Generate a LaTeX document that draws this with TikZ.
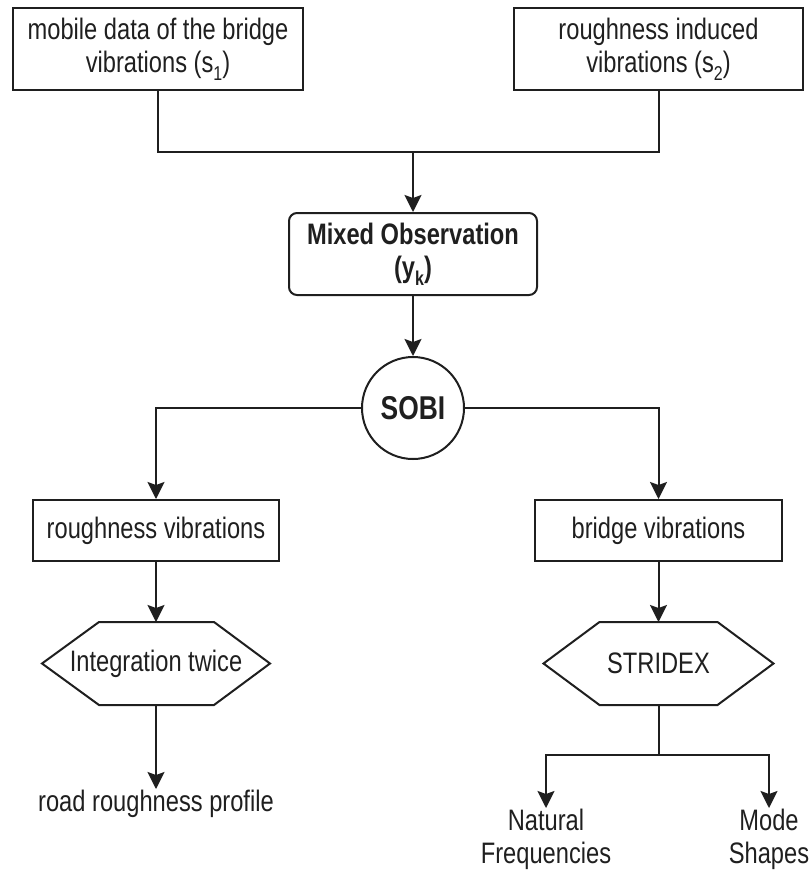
\documentclass[tikz,border=0pt]{standalone}
\usepackage{fontspec}
\setmainfont{Liberation Sans}[FakeStretch=0.8]
\usetikzlibrary{arrows.meta,calc}
\newcommand{\fsz}{\fontsize{29.6}{33}\selectfont}
\newcommand{\subsc}[1]{\raisebox{-0.28em}{\fontsize{20}{20}\selectfont #1}}
\begin{document}
\begin{tikzpicture}[x=1pt,y=-1pt,line width=2pt,color=black!88,
  box/.style={draw,rectangle,inner sep=0pt,align=center,font=\fsz},
  plain/.style={inner sep=0pt,align=center,font=\fsz},
  hexnode/.style={rectangle,inner sep=0pt,align=center,font=\fsz,minimum height=81pt},
  arr/.style={-{Stealth[length=17pt,width=17pt,inset=3pt]}}]
\useasboundingbox (0,0) rectangle (811,871);
% nodes
\node[box,minimum width=290pt,minimum height=82pt] (b1) at (158,49)
  {mobile data of the bridge\\vibrations (s\subsc{1})};
\node[box,minimum width=289pt,minimum height=82pt] (b2) at (658.5,49)
  {roughness induced\\vibrations (s\subsc{2})};
\coordinate (j1) at (413,152);
\node[box,rounded corners=8pt,minimum width=248pt,minimum height=82pt,font=\fsz\bfseries] (mix) at (413,254)
  {Mixed Observation\\(y\subsc{\bfseries k})};
\node[draw,circle,minimum size=102pt,inner sep=0pt,font=\fontsize{33}{36}\selectfont\bfseries] (sobi) at (413,408) {SOBI};
\node[box,minimum width=246pt,minimum height=61pt] (rv) at (156,530.5) {roughness vibrations};
\node[box,minimum width=247pt,minimum height=61pt] (bv) at (658.5,530.5) {bridge vibrations};
\node[hexnode,minimum width=226pt] (h1) at (156,663.5) {Integration twice};
\node[hexnode,minimum width=228pt] (h2) at (658.5,663.5) {STRIDEX};
\draw (h1.west) -- ($(h1.north west)+(57,0)$) -- ($(h1.north east)+(-56,0)$) -- (h1.east)
  -- ($(h1.south east)+(-56,0)$) -- ($(h1.south west)+(57,0)$) -- cycle;
\draw (h2.west) -- ($(h2.north west)+(56,0)$) -- ($(h2.north east)+(-56,0)$) -- (h2.east)
  -- ($(h2.south east)+(-56,0)$) -- ($(h2.south west)+(56,0)$) -- cycle;
\node[plain,anchor=north] (road) at (156,789) {road roughness profile};
\coordinate (j2) at (658.5,755);
\node[plain,anchor=north] (nat) at (546,808) {Natural\\Frequencies};
\node[plain,anchor=north] (mode) at (769,808) {Mode\\Shapes};
% connectors
\draw (b1.south) |- (j1) -| (b2.south);
\draw[arr] (j1) -- (mix.north);
\draw[arr] (mix.south) -- (sobi.north);
\draw[arr] (sobi.west) -| (rv.north);
\draw[arr] (sobi.east) -| (bv.north);
\draw[arr] (rv.south) -- (h1.north);
\draw[arr] (bv.south) -- (h2.north);
\draw[arr] (h1.south) -- (road.north);
\draw (h2.south) -- (j2);
\draw[arr] (j2) -| (nat.north);
\draw[arr] (j2) -| (mode.north);
\end{tikzpicture}
\end{document}
